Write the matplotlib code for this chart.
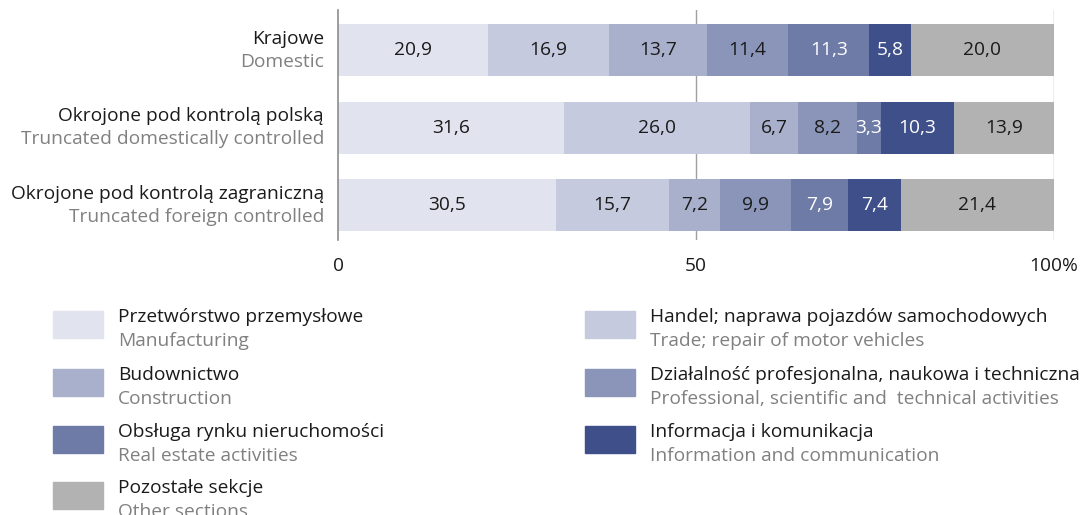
import matplotlib.pyplot as plt
from matplotlib.patches import Rectangle
from matplotlib.transforms import blended_transform_factory

plt.rcParams['font.family'] = ['Open Sans', 'DejaVu Sans']
FS = 13.8

rows_pl = ["Krajowe", "Okrojone pod kontrolą polską", "Okrojone pod kontrolą zagraniczną"]
rows_en = ["Domestic", "Truncated domestically controlled", "Truncated foreign controlled"]

sections_pl = ["Przetwórstwo przemysłowe", "Handel; naprawa pojazdów samochodowych",
               "Budownictwo", "Działalność profesjonalna, naukowa i techniczna",
               "Obsługa rynku nieruchomości", "Informacja i komunikacja", "Pozostałe sekcje"]
sections_en = ["Manufacturing", "Trade; repair of motor vehicles", "Construction",
               "Professional, scientific and  technical activities", "Real estate activities",
               "Information and communication", "Other sections"]

manufacturing = [20.9, 31.6, 30.5]
trade = [16.9, 26.0, 15.7]
construction = [13.7, 6.7, 7.2]
professional = [11.4, 8.2, 9.9]
real_estate = [11.3, 3.3, 7.9]
information = [5.8, 10.3, 7.4]
other = [20.0, 13.9, 21.4]
series = [manufacturing, trade, construction, professional, real_estate, information, other]

colors = ["#e1e4ee", "#c5cade", "#a9b0cc", "#8b95ba", "#6e7ba6", "#3f4f8a", "#b2b2b2"]
text_colors = ["#1a1a1a"] * 4 + ["white", "white", "#1a1a1a"]

fig = plt.figure(figsize=(10.9, 5.15), dpi=100)
ax = fig.add_axes([338 / 1090, 1 - 240 / 515, (1054 - 338) / 1090, 230 / 515])

ypos = [0, 1, 2]
left = [0.0, 0.0, 0.0]
for vals, c, tc in zip(series, colors, text_colors):
    ax.barh(ypos, vals, left=left, height=0.67, color=c, zorder=2)
    for y, l, v in zip(ypos, left, vals):
        ax.text(l + v / 2, y, f"{v:.1f}".replace(".", ","), ha="center", va="center",
                fontsize=FS, color=tc, zorder=3)
    left = [l + v for l, v in zip(left, vals)]

ax.set_xlim(0, 100)
ax.set_ylim(2.45, -0.52)
ax.set_yticks([])
ax.set_xticks([0, 50, 100])
ax.set_xticklabels(["0", "50", "100%"], fontsize=FS, color="#1a1a1a")
ax.tick_params(axis="x", length=0, pad=12)
for s in ["top", "right", "bottom"]:
    ax.spines[s].set_visible(False)
ax.spines["left"].set_color("#8c8c8c")
ax.spines["left"].set_linewidth(1.2)
ax.axvline(50, color="#a0a0a0", lw=1, zorder=1)
ax.axvline(100, color="#a0a0a0", lw=1, zorder=1)

tr = blended_transform_factory(fig.transFigure, ax.transData)
for y, pl, en in zip(ypos, rows_pl, rows_en):
    ax.text(324 / 1090, y - 0.15, pl, transform=tr, ha="right", va="center",
            fontsize=FS, color="#1a1a1a")
    ax.text(324 / 1090, y + 0.15, en, transform=tr, ha="right", va="center",
            fontsize=FS, color="#808080")

# legend
W, H = 1090, 515
leg_x = [53, 585]
leg_y = [311, 369, 426, 482]
for i, (pl, en, c) in enumerate(zip(sections_pl, sections_en, colors)):
    col, row = i % 2, i // 2
    x0, y0 = leg_x[col], leg_y[row]
    fig.patches.append(Rectangle((x0 / W, 1 - (y0 + 27) / H), 50 / W, 27 / H,
                                 transform=fig.transFigure, color=c))
    fig.text((x0 + 65) / W, 1 - (y0 + 6) / H, pl, ha="left", va="center",
             fontsize=FS, color="#1a1a1a")
    fig.text((x0 + 65) / W, 1 - (y0 + 30) / H, en, ha="left", va="center",
             fontsize=FS, color="#808080")

fig.savefig("out.png", dpi=100)
